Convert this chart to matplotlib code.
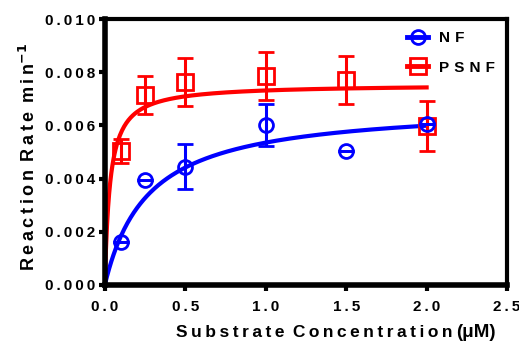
import matplotlib
matplotlib.use('Agg')
import matplotlib.pyplot as plt
from matplotlib.lines import Line2D
import numpy as np

plt.rcParams['font.family'] = ['Liberation Sans', 'DejaVu Sans']
plt.rcParams['font.weight'] = 'bold'

# data
conc = [0.1, 0.25, 0.5, 1.0, 1.5, 2.0]
nf_rate = [0.00162, 0.00395, 0.00444, 0.00602, 0.00505, 0.00604]
nf_err = [0, 0, 0.00085, 0.00080, 0, 0]
psnf_rate = [0.00505, 0.00714, 0.00764, 0.00786, 0.00770, 0.00598]
psnf_err = [0.00045, 0.00072, 0.00090, 0.00090, 0.00090, 0.00095]

# Michaelis-Menten fit parameters (Vmax, Km)
nf_fit = (0.0068, 0.27)
psnf_fit = (0.00755, 0.032)

xticks = [0.0, 0.5, 1.0, 1.5, 2.0, 2.5]
yticks = [0.000, 0.002, 0.004, 0.006, 0.008, 0.010]


def spaced(s, sep='\u2009'):
    # wide letter spacing like the original figure (thin spaces between letters)
    words = s.split(' ')
    return (sep + ' ').join(sep.join(w) for w in words)


def mm(x, vmax, km):
    return vmax * x / (km + x)


fig = plt.figure(figsize=(5.19, 3.42), dpi=100)
ax = fig.add_axes([0.202, 0.167, 0.775, 0.777])

xs = np.linspace(0, 2.0, 300)
red = '#ff0000'
blue = '#0000ff'

ax.plot(xs, mm(xs, *psnf_fit), color=red, lw=3, zorder=2)
ax.plot(xs, mm(xs, *nf_fit), color=blue, lw=3, zorder=2)

ax.errorbar(conc, psnf_rate, yerr=psnf_err, fmt='s', ms=11, mfc='none', mec=red,
            mew=2, ecolor=red, elinewidth=2.2, capsize=6, capthick=2.2, zorder=3)
ax.errorbar(conc, nf_rate, yerr=nf_err, fmt='o', ms=10, mfc='none', mec=blue,
            mew=2, ecolor=blue, elinewidth=2.2, capsize=6, capthick=2.2, zorder=4)

ax.set_xlim(0, 2.5)
ax.set_ylim(0, 0.010)
ax.set_xticks(xticks)
ax.set_yticks(yticks)
ax.set_xticklabels([spaced('%.1f' % t) for t in xticks], fontsize=11, fontweight='bold')
ax.set_yticklabels([spaced('%.3f' % t) for t in yticks], fontsize=11, fontweight='bold')
ax.tick_params(width=3, length=4, direction='out')
ax.tick_params(axis='x', pad=7)
ax.tick_params(axis='y', pad=3)

for s in ['left', 'bottom']:
    ax.spines[s].set_linewidth(4)
for s in ['top', 'right']:
    ax.spines[s].set_linewidth(3)

ax.set_ylabel(spaced('Reaction Rate min') + r'$^{\mathbf{-1}}$', fontsize=13,
              fontweight='bold')
ax.yaxis.set_label_coords(-0.163, 0.48)
fig.text(0.872, 0.014, spaced('Substrate Concentration'), fontsize=12.5,
         fontweight='bold', ha='right', va='baseline')
fig.text(0.879, 0.014, '(μM)', fontsize=13.5, fontweight='bold', ha='left', va='baseline')

h1 = Line2D([], [], color=blue, lw=3.5, marker='o', ms=10, mfc='none', mec=blue, mew=2)
h2 = Line2D([], [], color=red, lw=3.5, marker='s', ms=11, mfc='none', mec=red, mew=2)
ax.legend([h1, h2], [spaced('NF', '\u2004'), spaced('PSNF', '\u2004')], loc='upper right',
          frameon=False, fontsize=11, handlelength=1.4, handletextpad=0.7,
          borderaxespad=0.4, labelspacing=1.0)

fig.savefig('out.png', dpi=100)
